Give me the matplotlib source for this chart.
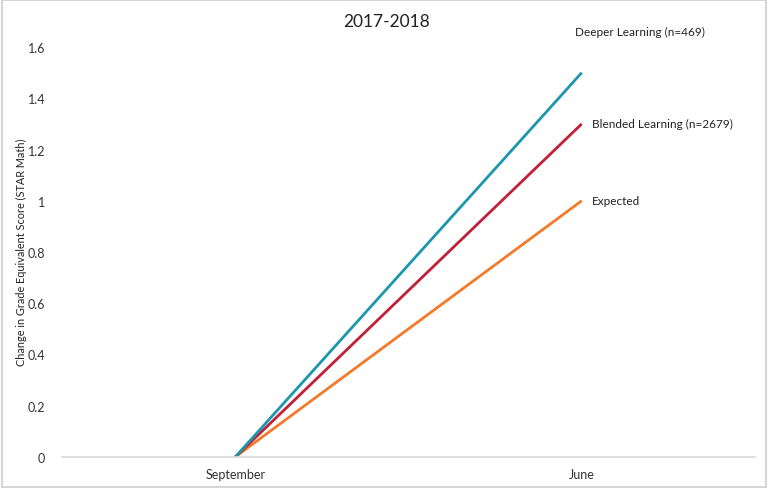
import matplotlib
matplotlib.use("Agg")
import matplotlib.pyplot as plt
from matplotlib.patches import Rectangle

plt.rcParams['font.family'] = ['Lato', 'DejaVu Sans']

months = ['September', 'June']
deeper = [0, 1.5]
blended = [0, 1.3]
expected = [0, 1.0]
yticks = [0, 0.2, 0.4, 0.6, 0.8, 1, 1.2, 1.4, 1.6]
ytick_labels = ['0', '0.2', '0.4', '0.6', '0.8', '1', '1.2', '1.4', '1.6']

fig = plt.figure(figsize=(7.68, 4.89), dpi=100)
ax = fig.add_axes([62/768, 1 - 458/489, (755 - 62)/768, (458 - 48)/489])

x = range(len(months))
ax.plot(x, expected, color='#f47a2a', lw=2.0, solid_capstyle='butt')
ax.plot(x, blended, color='#c21f38', lw=2.0, solid_capstyle='butt')
ax.plot(x, deeper, color='#1b97ad', lw=2.0, solid_capstyle='butt')

ax.set_xlim(-0.5, 1.5)
ax.set_ylim(0, 1.6)
ax.set_xticks(list(x))
ax.set_xticklabels(months, fontsize=9, color='#333333')
ax.set_yticks(yticks)
ax.set_yticklabels(ytick_labels, fontsize=9, color='#333333')
ax.tick_params(length=0, pad=8)
ax.tick_params(axis='y', pad=12)
for s in ['top', 'right', 'left']:
    ax.spines[s].set_visible(False)
ax.spines['bottom'].set_color('#d9d9d9')
ax.spines['bottom'].set_linewidth(1.2)

fig.text(21/768, 1 - 252/489, 'Change in Grade Equivalent Score (STAR Math)',
         fontsize=7.8, color='#222222', rotation=90, ha='center', va='center')
fig.text(387/768, 1 - 22/489, '2017-2018', fontsize=12.5, color='#222222',
         ha='center', va='center')

ax.text(0.98, 1.66, 'Deeper Learning (n=469)', fontsize=8.5, va='center',
        color='#222222', clip_on=False)
ax.text(1.03, 1.3, 'Blended Learning (n=2679)', fontsize=8.5, va='center',
        color='#222222', clip_on=False)
ax.text(1.03, 1.0, 'Expected', fontsize=8.5, va='center', color='#222222',
        clip_on=False)

fig.patches.append(Rectangle((0.002, 0.003), 0.996, 0.994, transform=fig.transFigure,
                             fill=False, edgecolor='#d6d6d6', lw=1.5))

fig.savefig('out.png', dpi=100)
